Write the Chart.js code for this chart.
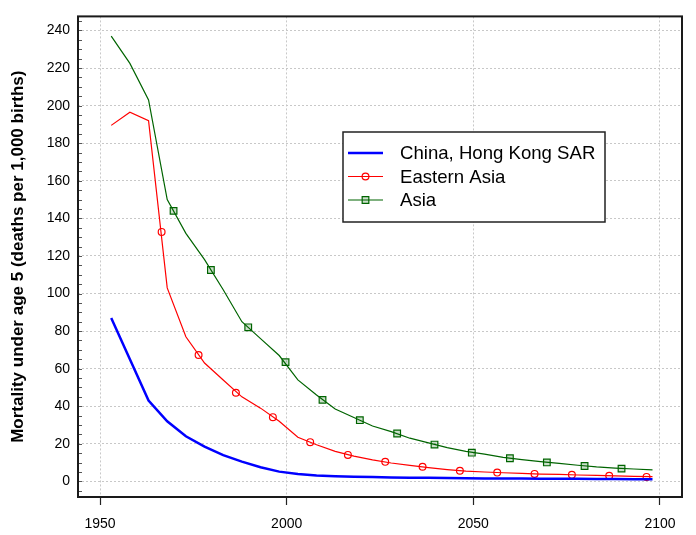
<!DOCTYPE html>
<html>
<head>
<meta charset="utf-8">
<title>Mortality under age 5</title>
<script src="https://cdn.jsdelivr.net/npm/chart.js@4/dist/chart.umd.min.js"></script>
<style>
    html, body { margin: 0; padding: 0; background: #fff; }
    #wrap { width: 696px; height: 535px; position: relative; }
</style>
</head>
<body>
<div id="wrap"><canvas id="u5Chart" width="696" height="535"></canvas></div>
<script>
// Data (5-year periods, plotted at period midpoints)
const years = [1953, 1958, 1963, 1968, 1973, 1978, 1983, 1988, 1993, 1998,
    2003, 2008, 2013, 2018, 2023, 2028, 2033, 2038, 2043, 2048,
    2053, 2058, 2063, 2068, 2073, 2078, 2083, 2088, 2093, 2098];

const hongKong = [87, 65, 43, 32, 24, 18.5, 14, 10.5, 7.5, 5.2,
    4, 3.2, 2.8, 2.5, 2.3, 2.1, 2.0, 1.9, 1.8, 1.7,
    1.6, 1.55, 1.5, 1.45, 1.4, 1.35, 1.3, 1.25, 1.2, 1.2];

const easternAsia = [189.5, 196.5, 192, 103, 77, 63, 54, 45, 39, 32,
    23.5, 19.5, 16, 13.5, 11.5, 9.8, 8.5, 7.3, 6.3, 5.5,
    5.0, 4.6, 4.3, 3.9, 3.7, 3.4, 3.2, 2.9, 2.7, 2.5];

const asia = [237, 222.5, 203, 150, 132, 118, 102, 85, 76, 67,
    54, 46, 38.5, 34, 29.5, 26.5, 23, 20.5, 18, 16,
    14.5, 12.8, 11.6, 10.5, 9.6, 8.6, 7.7, 7.1, 6.6, 6.1];

// Marker positions along the lines
const eastMarkYears = [1966.5, 1976.4, 1986.4, 1996.3, 2006.3, 2016.4, 2026.4,
    2036.4, 2046.4, 2056.4, 2066.4, 2076.4, 2086.4, 2096.4];
const eastMarkValues = [132.8, 67.3, 47.2, 34.2, 20.9, 14.1, 10.4,
    7.8, 5.7, 4.7, 4.0, 3.5, 3.0, 2.4];

const asiaMarkYears = [1969.7, 1979.7, 1989.7, 1999.7, 2009.6, 2019.6, 2029.6,
    2039.6, 2049.6, 2059.8, 2069.7, 2079.8, 2089.7];
const asiaMarkValues = [144, 112.5, 82, 63.5, 43.4, 32.6, 25.5,
    19.6, 15.3, 12.3, 10.1, 8.2, 6.8];

// Axes
const xTicks = [1950, 2000, 2050, 2100];
const yLabelStep = 20;
const yMinorStep = 5;
const seriesNames = ['China, Hong Kong SAR', 'Eastern Asia', 'Asia'];

const FONT = "'Liberation Sans', Arial, sans-serif";

function toPoints(xs, ys) {
    return xs.map((x, i) => ({ x: x, y: ys[i] }));
}

// Plot frame + inner y ticks
const framePlugin = {
    id: 'frame',
    afterDatasetsDraw(chart) {
        const { ctx, chartArea } = chart;
        const yScale = chart.scales.y;
        ctx.save();
        ctx.strokeStyle = '#555';
        ctx.lineWidth = 1;
        yScale.ticks.forEach(t => {
            const py = Math.round(yScale.getPixelForValue(t.value)) + 0.5;
            ctx.beginPath();
            ctx.moveTo(chartArea.left, py);
            ctx.lineTo(chartArea.left + 4, py);
            ctx.stroke();
        });
        ctx.strokeStyle = '#1a1a1a';
        ctx.lineWidth = 2;
        ctx.strokeRect(chartArea.left, chartArea.top,
            chartArea.right - chartArea.left, chartArea.bottom - chartArea.top);
        ctx.restore();
    }
};

// Legend with line + marker samples
const legendPlugin = {
    id: 'lineLegend',
    afterDraw(chart) {
        const { ctx } = chart;
        const box = { x: 343, y: 132, w: 262, h: 90 };
        const rows = [
            { label: seriesNames[0], color: '#0000ff', width: 2.5, marker: null },
            { label: seriesNames[1], color: '#ff0000', width: 1.2, marker: 'circle', fill: 'rgba(0,0,0,0)', r: 3.4 },
            { label: seriesNames[2], color: '#006400', width: 1.2, marker: 'rect', fill: 'rgba(0,100,0,0.2)', r: 4.7 }
        ];
        ctx.save();
        ctx.fillStyle = '#fff';
        ctx.fillRect(box.x, box.y, box.w, box.h);
        ctx.strokeStyle = '#222';
        ctx.lineWidth = 1.5;
        ctx.strokeRect(box.x, box.y, box.w, box.h);
        rows.forEach((row, i) => {
            const cy = box.y + 21 + i * 23.5;
            ctx.strokeStyle = row.color;
            ctx.lineWidth = row.width;
            ctx.beginPath();
            ctx.moveTo(box.x + 5, cy);
            ctx.lineTo(box.x + 40, cy);
            ctx.stroke();
            if (row.marker) {
                ctx.fillStyle = row.fill;
                ctx.lineWidth = 1.2;
                Chart.helpers.drawPoint(ctx, { pointStyle: row.marker, radius: row.r, borderWidth: 1.2 }, box.x + 22.5, cy);
            }
            ctx.fillStyle = '#000';
            ctx.font = '18.6px ' + FONT;
            ctx.textBaseline = 'middle';
            ctx.textAlign = 'left';
            ctx.fillText(row.label, box.x + 57, cy + 1);
        });
        ctx.restore();
    }
};

const ctx = document.getElementById('u5Chart');
new Chart(ctx, {
    type: 'line',
    data: {
        datasets: [
            {
                label: seriesNames[0],
                data: toPoints(years, hongKong),
                borderColor: '#0000ff',
                borderWidth: 2.5,
                pointRadius: 0,
                tension: 0
            },
            {
                label: seriesNames[1],
                data: toPoints(years, easternAsia),
                borderColor: '#ff0000',
                borderWidth: 1.2,
                pointRadius: 0,
                tension: 0
            },
            {
                label: seriesNames[2],
                data: toPoints(years, asia),
                borderColor: '#006400',
                borderWidth: 1.2,
                pointRadius: 0,
                tension: 0
            },
            {
                label: seriesNames[1] + ' markers',
                data: toPoints(eastMarkYears, eastMarkValues),
                showLine: false,
                pointStyle: 'circle',
                pointRadius: 3.4,
                pointBorderWidth: 1.2,
                pointBorderColor: '#ff0000',
                pointBackgroundColor: 'rgba(0,0,0,0)'
            },
            {
                label: seriesNames[2] + ' markers',
                data: toPoints(asiaMarkYears, asiaMarkValues),
                showLine: false,
                pointStyle: 'rect',
                pointRadius: 4.7,
                pointBorderWidth: 1.2,
                pointBorderColor: '#006400',
                pointBackgroundColor: 'rgba(0,100,0,0.2)'
            }
        ]
    },
    options: {
        responsive: false,
        animation: false,
        layout: { padding: { top: 6, right: 14, left: 0, bottom: 0 } },
        plugins: {
            legend: { display: false },
            tooltip: { enabled: false }
        },
        scales: {
            x: {
                type: 'linear',
                min: 1944.1,
                max: 2105.9,
                afterBuildTicks: scale => {
                    scale.ticks = xTicks.map(v => ({ value: v }));
                },
                afterFit: scale => { scale.height = 38; },
                border: { display: false, dash: [2, 2] },
                grid: {
                    color: '#c8c8c8',
                    lineWidth: 1,
                    tickColor: '#222',
                    tickLength: 8,
                    tickWidth: 1.2,
                    tickBorderDash: []
                },
                ticks: {
                    autoSkip: false,
                    maxRotation: 0,
                    padding: 11,
                    color: '#000',
                    font: { family: FONT, size: 14 },
                    callback: v => String(v)
                }
            },
            y: {
                type: 'linear',
                min: -8.3,
                max: 247.5,
                afterBuildTicks: scale => {
                    const t = [];
                    for (let v = -5; v <= 245; v += yMinorStep) t.push({ value: v });
                    scale.ticks = t;
                },
                afterFit: scale => { scale.width = 78; },
                border: { display: false, dash: [2, 2] },
                grid: {
                    drawTicks: false,
                    color: c => (c.tick && c.tick.value % yLabelStep === 0) ? '#c8c8c8' : 'rgba(0,0,0,0)'
                },
                ticks: {
                    autoSkip: false,
                    padding: 8,
                    color: '#000',
                    font: { family: FONT, size: 14 },
                    callback: v => (v % yLabelStep === 0 ? String(v) : '')
                },
                title: {
                    display: true,
                    text: 'Mortality under age 5 (deaths per 1,000 births)',
                    color: '#000',
                    font: { family: FONT, size: 17, weight: 'bold' },
                    padding: { top: 8, bottom: 0 }
                }
            }
        }
    },
    plugins: [framePlugin, legendPlugin]
});
</script>
</body>
</html>
